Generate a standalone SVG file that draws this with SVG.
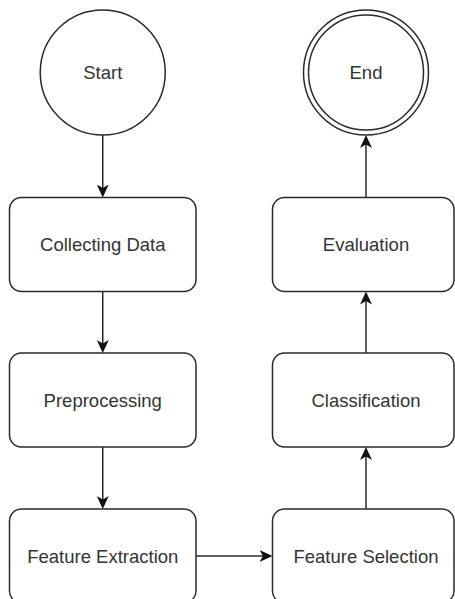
<svg xmlns="http://www.w3.org/2000/svg" width="455" height="599" viewBox="0 0 455 599">
<style>
.n{fill:#fff;stroke:#2a2a2a;stroke-width:1.5}
.t{font-family:"Liberation Sans",Arial,sans-serif;font-size:18.5px;fill:#333;text-anchor:middle;dominant-baseline:central}
.c{fill:none;stroke:#2a2a2a;stroke-width:1.5}
</style>
<defs>
<marker id="arr" viewBox="0 0 13 12" refX="9" refY="6" markerWidth="13" markerHeight="12" markerUnits="userSpaceOnUse" orient="auto">
<path d="M0,0 L13,6 L0,12 L3.5,6 Z" fill="#111"/>
</marker>
</defs>
<rect width="455" height="599" fill="#fff"/>
<g id="connectors">
<path class="c" d="M102.75,135 V193.5" marker-end="url(#arr)"/>
<path class="c" d="M102.75,291.5 V349" marker-end="url(#arr)"/>
<path class="c" d="M102.75,447 V505" marker-end="url(#arr)"/>
<path class="c" d="M196,556 H268.5" marker-end="url(#arr)"/>
<path class="c" d="M366,509 V451" marker-end="url(#arr)"/>
<path class="c" d="M366,353 V295.5" marker-end="url(#arr)"/>
<path class="c" d="M366,197.5 V139" marker-end="url(#arr)"/>
</g>
<g id="start">
<circle class="n" cx="102.75" cy="72.5" r="62.5"/>
<text class="t" x="102.75" y="72.5">Start</text>
</g>
<g id="end">
<circle class="n" cx="366" cy="72.5" r="62.5"/>
<circle class="n" cx="366" cy="72.5" r="57.5"/>
<text class="t" x="366" y="72.5">End</text>
</g>
<g id="collecting">
<rect class="n" x="9.5" y="197.5" width="186.5" height="94" rx="12"/>
<text class="t" x="102.75" y="244.5">Collecting Data</text>
</g>
<g id="preprocessing">
<rect class="n" x="9.5" y="353" width="186.5" height="94" rx="12"/>
<text class="t" x="102.75" y="400">Preprocessing</text>
</g>
<g id="extraction">
<rect class="n" x="9.5" y="509" width="186.5" height="94" rx="12"/>
<text class="t" x="102.75" y="556">Feature Extraction</text>
</g>
<g id="selection">
<rect class="n" x="272.5" y="509" width="181.5" height="94" rx="12"/>
<text class="t" x="366" y="556">Feature Selection</text>
</g>
<g id="classification">
<rect class="n" x="272.5" y="353" width="181.5" height="94" rx="12"/>
<text class="t" x="366" y="400">Classification</text>
</g>
<g id="evaluation">
<rect class="n" x="272.5" y="197.5" width="181.5" height="94" rx="12"/>
<text class="t" x="366" y="244.5">Evaluation</text>
</g>
</svg>
